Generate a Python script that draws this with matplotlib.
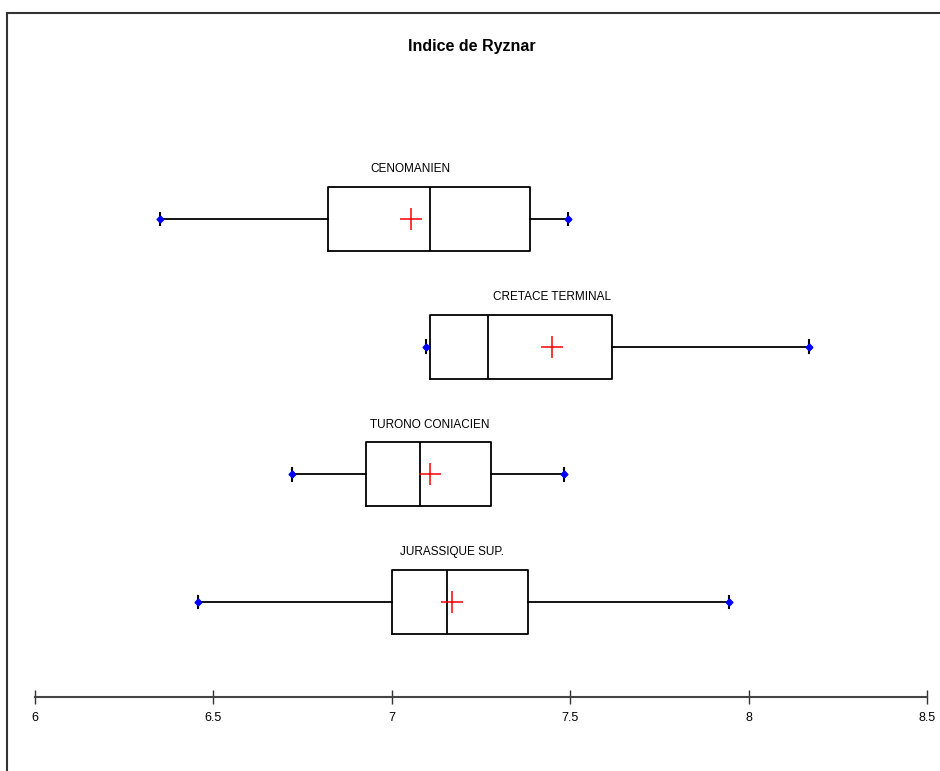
import matplotlib
matplotlib.use("Agg")
import matplotlib.pyplot as plt
from matplotlib.patches import Rectangle

# box plot statistics (Ryznar index per aquifer)
groups = ["CENOMANIEN", "CRETACE TERMINAL", "TURONO CONIACIEN", "JURASSIQUE SUP."]
mins = [6.35, 7.095, 6.72, 6.457]
q1 = [6.82, 7.107, 6.928, 7.00]
medians = [7.107, 7.27, 7.079, 7.155]
q3 = [7.388, 7.616, 7.278, 7.381]
maxs = [7.493, 8.169, 7.482, 7.946]
means = [7.053, 7.449, 7.107, 7.169]
positions = [4, 3, 2, 1]

xticks = [6, 6.5, 7, 7.5, 8, 8.5]
xticklabels = ["6", "6.5", "7", "7.5", "8", "8.5"]

plt.rcParams["font.family"] = ["Liberation Sans", "DejaVu Sans"]

W, H = 940, 771
fig = plt.figure(figsize=(W / 100, H / 100), dpi=100)

# outer frame of the original export
fig.add_artist(Rectangle((7 / W, -0.1), 1.2, 1 - 13 / H + 0.1, transform=fig.transFigure,
                         fill=False, edgecolor="#333333", linewidth=1.5))

ax = fig.add_axes([35 / W, 74 / H, 892 / W, 684 / H])
ax.set_facecolor("none")

stats = []
for i in range(len(groups)):
    stats.append({"label": groups[i], "whislo": mins[i], "q1": q1[i], "med": medians[i],
                  "q3": q3[i], "whishi": maxs[i], "mean": means[i], "fliers": []})

ax.bxp(stats, positions=positions, widths=0.5, orientation="horizontal",
       showmeans=True, capwidths=0.1,
       boxprops=dict(color="black", linewidth=1.3),
       medianprops=dict(color="black", linewidth=1.3),
       whiskerprops=dict(color="black", linewidth=1.3),
       capprops=dict(color="black", linewidth=1.5),
       meanprops=dict(marker="+", markeredgecolor="red", markersize=16, markeredgewidth=1.1))

ax.plot(mins, positions, "D", color="blue", markersize=3.5, linestyle="none", zorder=5)
ax.plot(maxs, positions, "D", color="blue", markersize=3.5, linestyle="none", zorder=5)

for name, m, p in zip(groups, means, positions):
    ax.text(m, p + 0.25 + 0.14, name, ha="center", va="center", fontsize=8.5)

ax.set_xlim(6, 8.5)
ax.set_ylim(0.256, 5.613)
ax.set_yticks([])
ax.set_xticks(xticks)
ax.set_xticklabels(xticklabels, fontsize=9)
for s in ["left", "top", "right"]:
    ax.spines[s].set_visible(False)
ax.spines["bottom"].set_color("#444444")
ax.spines["bottom"].set_linewidth(1.5)
ax.tick_params(axis="x", direction="inout", length=10, width=1, color="#333333", pad=6)

fig.text(472 / W, 1 - 47 / H, "Indice de Ryznar", ha="center", va="center",
         fontsize=11.5, fontweight="bold")

fig.savefig("out.png", dpi=100)
